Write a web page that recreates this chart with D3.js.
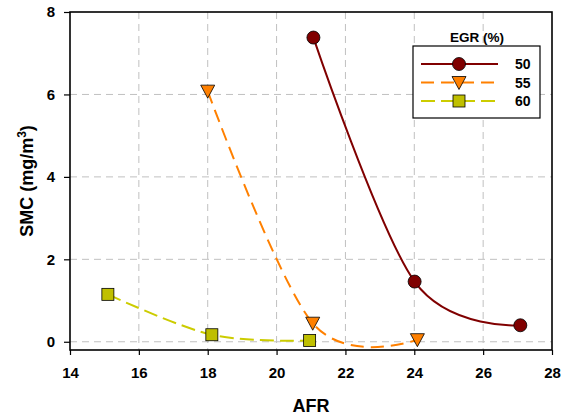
<!DOCTYPE html>
<html>
<head>
<meta charset="utf-8">
<script src="https://cdn.jsdelivr.net/npm/d3@7"></script>
<style>
  html, body { margin: 0; padding: 0; background: #fff; }
  text { font-family: "Liberation Sans", Arial, sans-serif; font-weight: bold; fill: #000; }
</style>
</head>
<body>
<svg id="chart" width="563" height="417"></svg>
<script>
// Soot mass concentration versus air-fuel ratio, by EGR rate
const xTicks = [14, 16, 18, 20, 22, 24, 26, 28];
const yTicks = [0, 2, 4, 6, 8];
const egrLabels = ["50", "55", "60"];
const afr50 = [21.07, 24.01, 27.08];
const smc50 = [7.38, 1.46, 0.40];
const afr55 = [18.0, 21.05, 24.09];
const smc55 = [6.08, 0.45, 0.05];
const afr60 = [15.1, 18.12, 20.96];
const smc60 = [1.15, 0.17, 0.03];

const series = [
  { name: egrLabels[0], xs: afr50, ys: smc50, color: "#800000", fill: "#800000", dash: null, shape: "circle" },
  { name: egrLabels[1], xs: afr55, ys: smc55, color: "#FF8000", fill: "#FF8000", dash: "13,7", shape: "triangle" },
  { name: egrLabels[2], xs: afr60, ys: smc60, color: "#CCCC00", fill: "#BFBF00", dash: "14,6", shape: "square" }
];

const svg = d3.select("#chart");
const plotL = 70, plotR = 552, plotT = 12, plotB = 350;

const x = d3.scaleLinear().domain([14, 28]).range([plotL, plotR]);
const y = d3.scaleLinear().domain([-0.2, 8]).range([plotB, plotT]);

// grid
const grid = svg.append("g");
grid.selectAll("line.vg").data(xTicks.slice(1, -1)).enter().append("line")
  .attr("x1", d => x(d)).attr("x2", d => x(d)).attr("y1", plotT).attr("y2", plotB)
  .attr("stroke", "#c0c0c0").attr("stroke-width", 1).attr("stroke-dasharray", "7,5");
grid.selectAll("line.hg").data(yTicks.slice(0, -1)).enter().append("line")
  .attr("x1", plotL).attr("x2", plotR).attr("y1", d => y(d)).attr("y2", d => y(d))
  .attr("stroke", "#c0c0c0").attr("stroke-width", 1).attr("stroke-dasharray", "7,5");

// axes
const xAxis = d3.axisBottom(x).tickValues(xTicks).tickSize(5).tickPadding(12).tickFormat(d3.format("d"));
const yAxis = d3.axisLeft(y).tickValues(yTicks).tickSize(6).tickPadding(9).tickFormat(d3.format("d"));

const gx = svg.append("g").attr("transform", `translate(0,${plotB})`).call(xAxis);
const gy = svg.append("g").attr("transform", `translate(${plotL},0)`).call(yAxis);
[gx, gy].forEach(g => {
  g.select(".domain").remove();
  g.selectAll(".tick line").attr("stroke", "#000").attr("stroke-width", 1.2);
  g.selectAll(".tick text").style("font-size", "15px").style("font-weight", "bold")
    .style("font-family", "Liberation Sans, Arial, sans-serif").attr("fill", "#000");
});

// plot frame
svg.append("rect").attr("x", plotL).attr("y", plotT).attr("width", plotR - plotL).attr("height", plotB - plotT)
  .attr("fill", "none").attr("stroke", "#000").attr("stroke-width", 1.6);

// series
const line = d3.line().x(d => x(d[0])).y(d => y(d[1])).curve(d3.curveCardinal.tension(0));

function marker(g, shape, cx, cy, fill) {
  if (shape === "circle") {
    g.append("circle").attr("cx", cx).attr("cy", cy).attr("r", 6.5)
      .attr("fill", fill).attr("stroke", "#000").attr("stroke-width", 0.8);
  } else if (shape === "triangle") {
    const s = 7;
    g.append("path").attr("d", `M${cx - s},${cy - s + 1}L${cx + s},${cy - s + 1}L${cx},${cy + s}Z`)
      .attr("fill", fill).attr("stroke", "#000").attr("stroke-width", 0.8);
  } else {
    const s = 6;
    g.append("rect").attr("x", cx - s).attr("y", cy - s).attr("width", 2 * s).attr("height", 2 * s)
      .attr("fill", fill).attr("stroke", "#000").attr("stroke-width", 0.8);
  }
}

series.forEach(s => {
  const pts = s.xs.map((v, i) => [v, s.ys[i]]);
  const g = svg.append("g");
  g.append("path").attr("d", line(pts)).attr("fill", "none")
    .attr("stroke", s.color).attr("stroke-width", 2)
    .attr("stroke-dasharray", s.dash);
  pts.forEach(p => marker(g, s.shape, x(p[0]), y(p[1]), s.fill));
});

// axis titles
svg.append("text").attr("x", (plotL + plotR) / 2).attr("y", 412).attr("text-anchor", "middle")
  .style("font-size", "18px").text("AFR");
const yt = svg.append("text").attr("transform", `translate(33,${(plotT + plotB) / 2}) rotate(-90)`)
  .attr("text-anchor", "middle").style("font-size", "18px");
yt.append("tspan").text("SMC (mg/m");
yt.append("tspan").attr("dy", -7).style("font-size", "12px").text("3");
yt.append("tspan").attr("dy", 7).text(")");

// legend
const lg = svg.append("g");
lg.append("rect").attr("x", 413).attr("y", 46).attr("width", 127).attr("height", 72)
  .attr("fill", "#fff").attr("stroke", "#000").attr("stroke-width", 1.2);
lg.append("text").attr("x", 477).attr("y", 42).attr("text-anchor", "middle")
  .style("font-size", "13.5px").text("EGR (%)");
series.forEach((s, i) => {
  const ly = 64 + i * 18.5;
  lg.append("line").attr("x1", 421).attr("x2", 498).attr("y1", ly).attr("y2", ly)
    .attr("stroke", s.color).attr("stroke-width", 2).attr("stroke-dasharray", s.dash);
  marker(lg, s.shape, 459, ly, s.fill);
  lg.append("text").attr("x", 515).attr("y", ly + 5).style("font-size", "14px").text(s.name);
});
</script>
</body>
</html>
